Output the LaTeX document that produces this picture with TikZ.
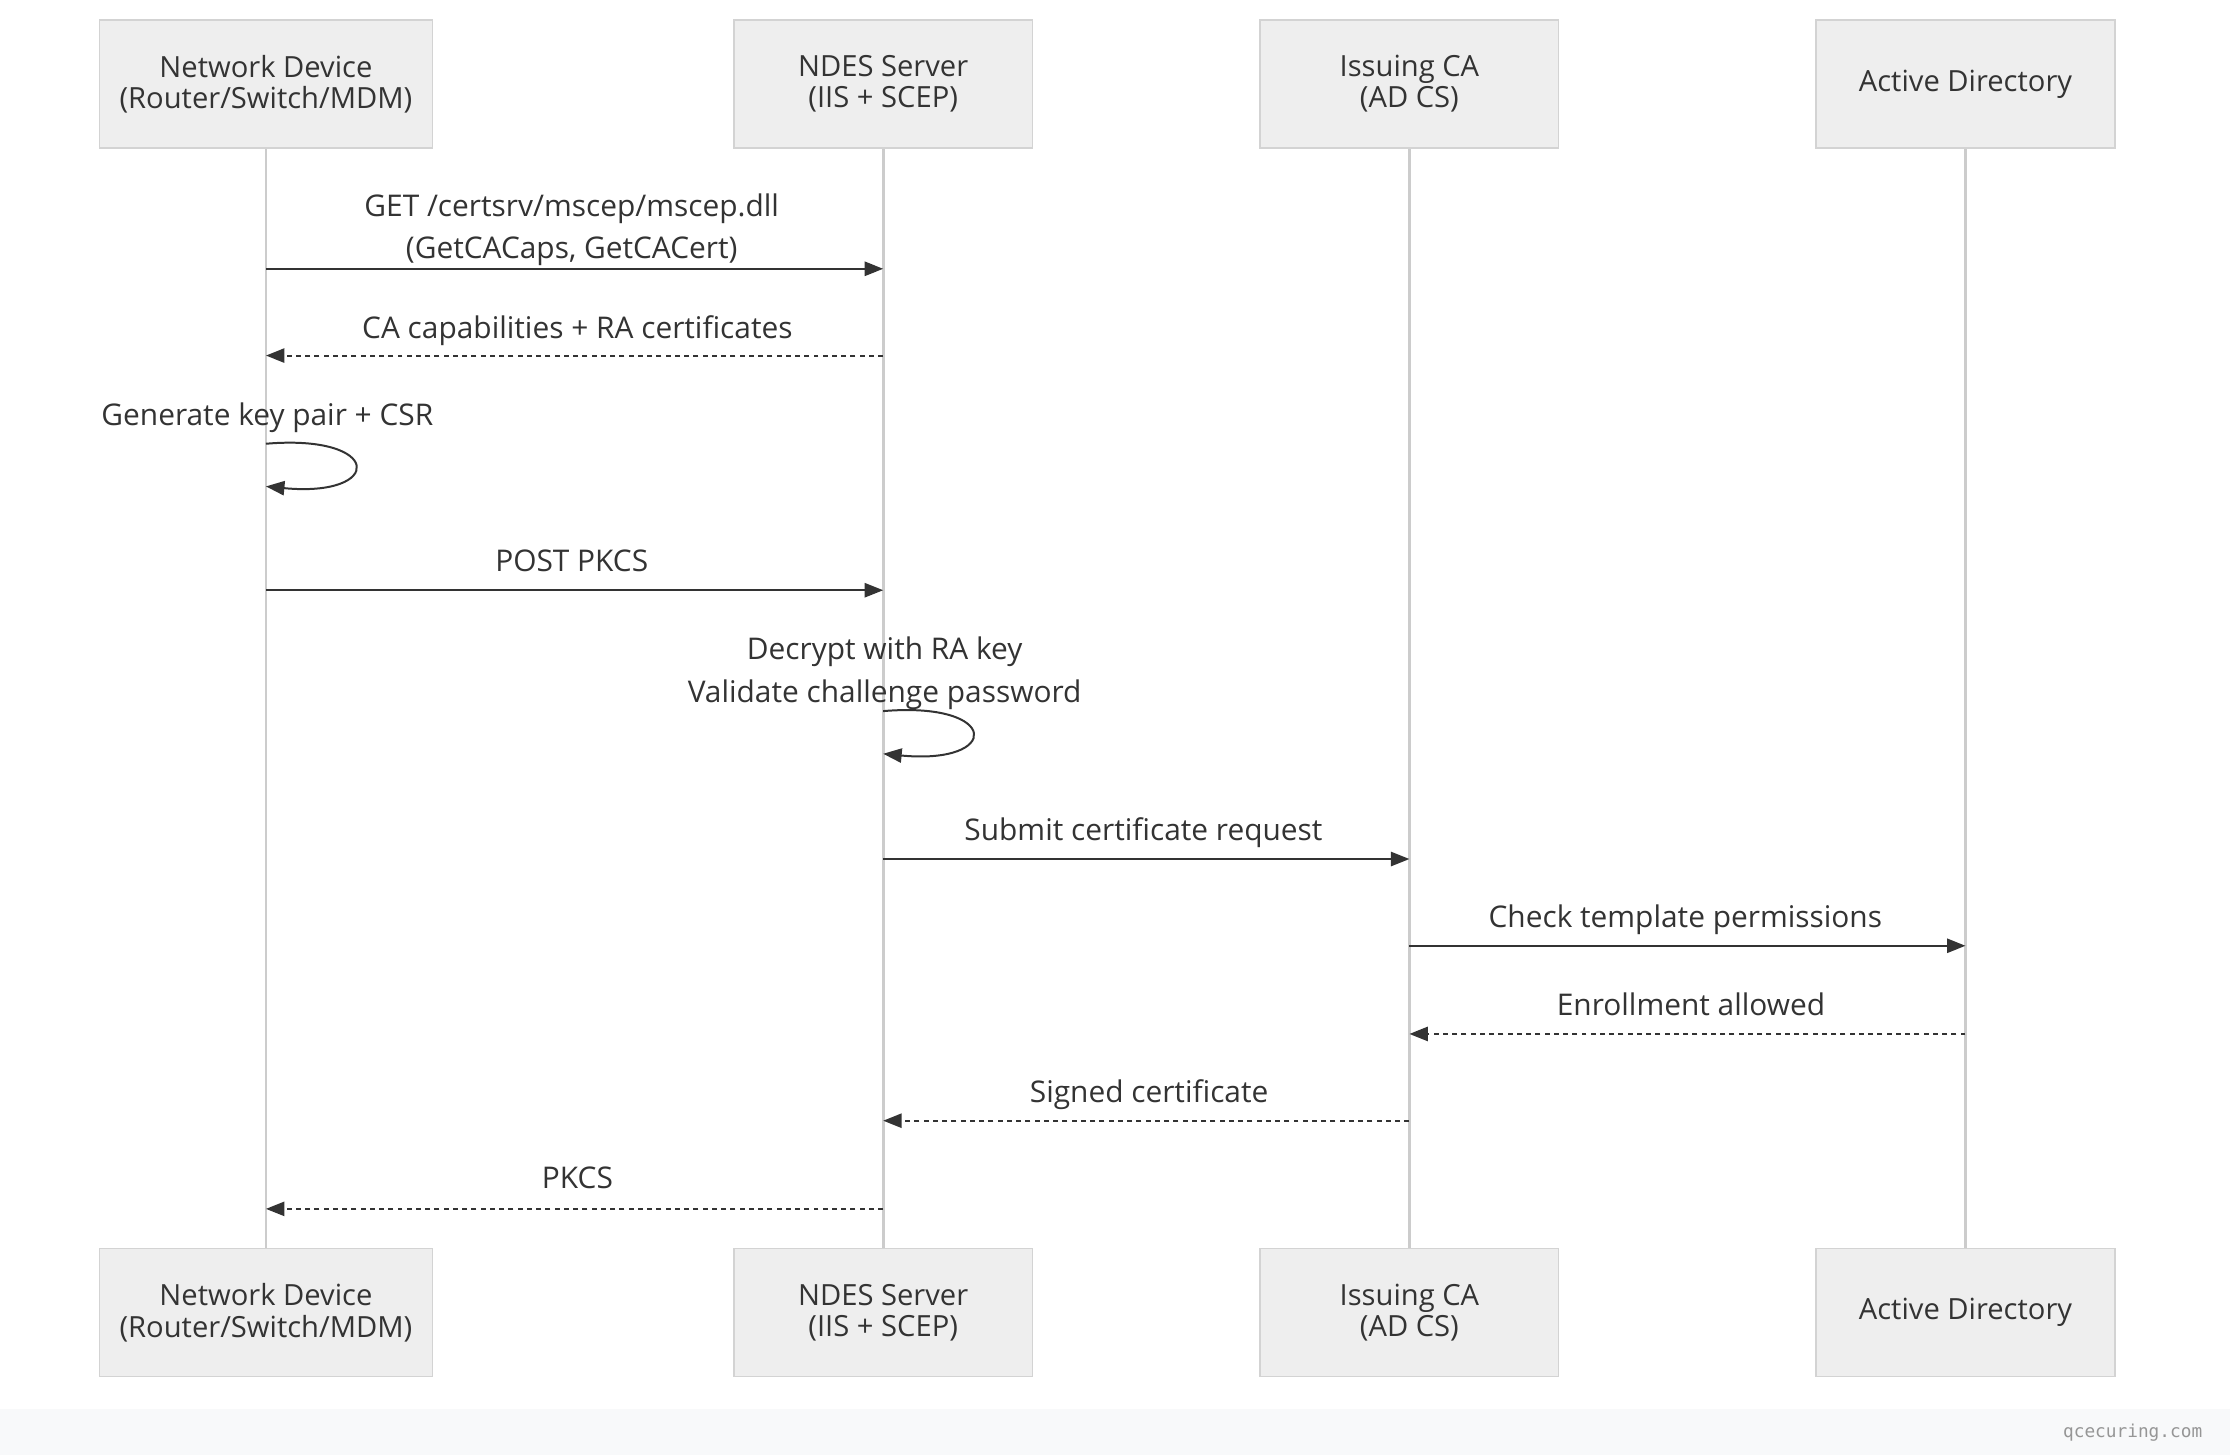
\documentclass[tikz,border=0pt]{standalone}
\usepackage{fontspec}
\setmainfont{Open Sans}
\newfontfamily\monof{DejaVu Sans Mono}
\usetikzlibrary{arrows.meta}
\definecolor{boxfill}{HTML}{EEEEEE}
\definecolor{boxdraw}{HTML}{D3D3D3}
\definecolor{txt}{HTML}{333333}
\definecolor{life}{HTML}{CCCCCC}
\definecolor{foot}{HTML}{F8F9FA}
\definecolor{wmc}{HTML}{969696}
\tikzset{
 actor/.style={draw=boxdraw,fill=boxfill,line width=1pt,minimum width=234pt,minimum height=90pt,align=center,text=txt,font=\fontsize{20.5}{22}\selectfont,inner sep=0pt},
 actorb/.style={actor,minimum width=210pt},
 msg/.style={line width=1.4pt,draw=txt,-{Triangle[length=13pt,width=10pt]}},
 reply/.style={msg,dash pattern=on 3.5pt off 3pt},
 lbl/.style={text=txt,font=\fontsize{21}{30}\selectfont,align=center,anchor=base},
 lifeline/.style={draw=life,line width=2pt}
}
\begin{document}
\begin{tikzpicture}[x=1pt,y=-1pt]
\useasboundingbox (0,0) rectangle (1568,1023);
\fill[white] (0,0) rectangle (1568,1023);
\fill[foot] (0,991) rectangle (1568,1023);
\node[anchor=east,text=wmc,font=\monof\fontsize{12.5}{12}\selectfont] (wm) at (1552,1007) {qcecuring.com};
% lifelines
\foreach \x/\n in {187/a,621/b,991/c,1382/d}{
 \coordinate (\n t) at (\x,104); \coordinate (\n b) at (\x,878);
 \draw[lifeline] (\n t) -- (\n b);
}
\node[actor] (a1) at (187,59) {\raisebox{-3pt}{}Network Device\\(Router/Switch/MDM)};
\node[actorb] (b1) at (621,59) {NDES Server\\(IIS + SCEP)};
\node[actorb] (c1) at (991,59) {Issuing CA\\(AD CS)};
\node[actorb] (d1) at (1382,59) {Active Directory};
\node[actor] (a2) at (187,923) {Network Device\\(Router/Switch/MDM)};
\node[actorb] (b2) at (621,923) {NDES Server\\(IIS + SCEP)};
\node[actorb] (c2) at (991,923) {Issuing CA\\(AD CS)};
\node[actorb] (d2) at (1382,923) {Active Directory};
% message points
\foreach \y in {189,250,415,604,665,727,788,850}{
 \coordinate (a\y) at (187,\y); \coordinate (b\y) at (621,\y);
 \coordinate (c\y) at (991,\y); \coordinate (d\y) at (1382,\y);
}
\draw[msg] (a189) -- (b189);
\node[lbl] (l1) at (402,182) {GET /certsrv/mscep/mscep.dll\\(GetCACaps, GetCACert)};
\draw[reply] (b250) -- (a250);
\node[lbl] (l2) at (406,238) {CA capabilities + RA certificates};
% self loop 1
\coordinate (s1) at (187,312); \coordinate (e1) at (187,342);
\draw[msg] (s1) .. controls (270,305) and (270,350) .. (e1);
\node[lbl] (l3) at (188,299) {Generate key pair + CSR};
\draw[msg] (a415) -- (b415);
\node[lbl] (l4) at (402,402) {POST PKCS};
% self loop 2
\coordinate (s2) at (621,500); \coordinate (e2) at (621,530);
\draw[msg] (s2) .. controls (704,493) and (704,538) .. (e2);
\node[lbl] (l5) at (622,494) {Decrypt with RA key\\Validate challenge password};
\draw[msg] (b604) -- (c604);
\node[lbl] (l6) at (804,591) {Submit certificate request};
\draw[msg] (c665) -- (d665);
\node[lbl] (l7) at (1185,652) {Check template permissions};
\draw[reply] (d727) -- (c727);
\node[lbl] (l8) at (1189,714) {Enrollment allowed};
\draw[reply] (c788) -- (b788);
\node[lbl] (l9) at (808,775) {Signed certificate};
\draw[reply] (b850) -- (a850);
\node[lbl] (l10) at (406,836) {PKCS};
\end{tikzpicture}
\end{document}
